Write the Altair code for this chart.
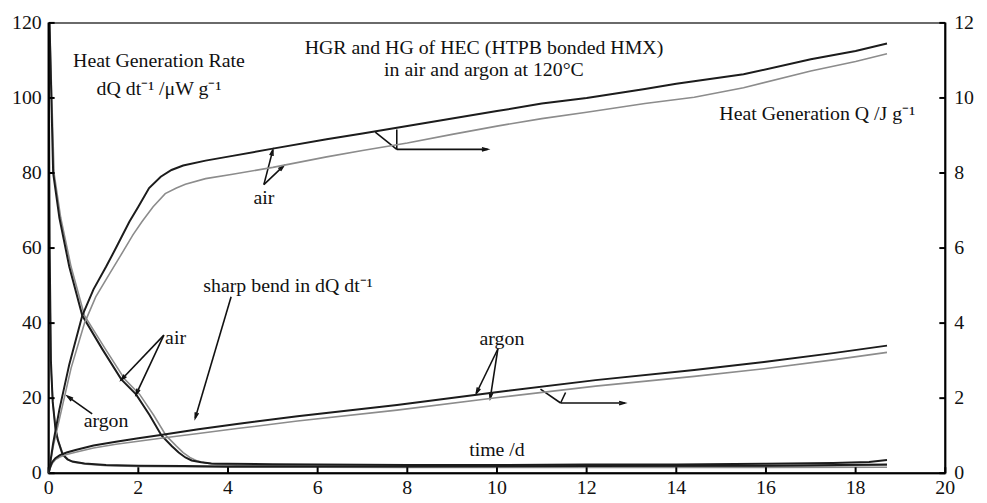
import altair as alt
import pandas as pd
import numpy as np

# ---------------- data ----------------
# Heat generation rate dQ/dt (uW/g), left axis
t_hgr_air_a = [0.02, 0.1, 0.24, 0.46, 0.75, 1.2, 1.62, 1.95, 2.25, 2.52, 2.75, 2.9, 3.05, 3.19, 3.4, 3.63, 4.0, 5.0, 6.0, 8.0, 10.0, 12.0, 14.0, 16.0, 17.5, 18.3, 18.7]
v_hgr_air_a = [120, 80, 68, 55, 42, 33, 25, 21, 15.5, 10, 7.2, 5.5, 4.2, 3.4, 2.9, 2.6, 2.5, 2.4, 2.3, 2.2, 2.2, 2.3, 2.3, 2.5, 2.7, 3.0, 3.5]
t_hgr_air_b = [0.02, 0.12, 0.27, 0.5, 0.8, 1.27, 1.7, 2.03, 2.34, 2.62, 2.85, 3.0, 3.15, 3.3, 3.5, 3.75, 4.2, 5.0, 6.0, 8.0, 10.0, 12.0, 14.0, 16.0, 17.5, 18.7]
v_hgr_air_b = [120, 80, 68, 55, 42, 33, 25, 21, 15.5, 10, 7.2, 5.5, 4.2, 3.3, 2.7, 2.3, 2.1, 2.0, 1.9, 1.8, 1.8, 1.7, 1.7, 1.8, 1.9, 2.2]
t_hgr_ar_a = [0.0, 0.02, 0.05, 0.09, 0.15, 0.2, 0.31, 0.42, 0.53, 0.8, 1.28, 2.0, 3.0, 4.0, 6.0, 8.0, 12.0, 16.0, 18.7]
v_hgr_ar_a = [120, 62, 30, 19, 12, 9, 5, 3.7, 3.1, 2.6, 2.2, 2.0, 1.9, 1.8, 1.8, 1.8, 1.9, 2.0, 2.3]
t_hgr_ar_b = [0.0, 0.02, 0.05, 0.1, 0.16, 0.22, 0.33, 0.45, 0.56, 0.85, 1.3, 2.0, 3.0, 4.0, 6.0, 8.0, 12.0, 16.0, 18.7]
v_hgr_ar_b = [118, 58, 28, 18, 11.5, 8.5, 4.8, 3.5, 2.9, 2.4, 2.0, 1.8, 1.7, 1.6, 1.6, 1.5, 1.5, 1.5, 1.6]

# Heat generation Q (J/g), right axis
t_q_air_a = [0, 0.1, 0.24, 0.46, 0.75, 1.0, 1.28, 1.5, 1.8, 2.0, 2.24, 2.5, 2.74, 3.0, 3.5, 4.07, 5.0, 6.2, 7.0, 8.0, 9.0, 10.0, 11.0, 12.0, 13.3, 14.0, 15.5, 17.0, 18.0, 18.7]
q_q_air_a = [0, 0.8, 1.7, 2.9, 4.2, 4.9, 5.5, 6.0, 6.7, 7.1, 7.6, 7.9, 8.08, 8.2, 8.33, 8.45, 8.65, 8.9, 9.05, 9.25, 9.45, 9.65, 9.85, 10.0, 10.24, 10.38, 10.63, 11.03, 11.25, 11.45]
t_q_air_b = [0, 0.1, 0.27, 0.5, 0.8, 1.05, 1.35, 1.58, 1.88, 2.08, 2.33, 2.6, 2.85, 3.05, 3.5, 4.07, 5.0, 6.2, 7.0, 8.0, 9.0, 10.0, 11.0, 12.0, 13.3, 14.4, 15.5, 17.0, 18.0, 18.7]
q_q_air_b = [0, 0.7, 1.6, 2.8, 4.0, 4.7, 5.3, 5.75, 6.35, 6.7, 7.1, 7.45, 7.6, 7.7, 7.85, 7.96, 8.15, 8.43, 8.6, 8.8, 9.03, 9.25, 9.45, 9.62, 9.85, 10.02, 10.27, 10.72, 10.97, 11.18]
t_q_ar = [0, 0.03, 0.08, 0.15, 0.25, 0.4, 0.6, 1.0, 1.5, 2.0, 2.5, 3.34, 4.2, 5.55, 7.77, 9.98, 12.2, 14.4, 16.0, 17.5, 18.7]
q_q_ar_a = [0, 0.15, 0.3, 0.4, 0.48, 0.55, 0.62, 0.74, 0.84, 0.93, 1.02, 1.17, 1.31, 1.52, 1.82, 2.16, 2.48, 2.75, 2.97, 3.2, 3.4]
q_q_ar_b = [0, 0.12, 0.26, 0.36, 0.43, 0.5, 0.56, 0.67, 0.77, 0.85, 0.93, 1.06, 1.19, 1.39, 1.68, 2.01, 2.32, 2.58, 2.79, 3.02, 3.22]

# ticks
x_ticks = [0, 2, 4, 6, 8, 10, 12, 14, 16, 18, 20]
left_ticks = [0, 20, 40, 60, 80, 100, 120]
right_ticks = [0, 2, 4, 6, 8, 10, 12]

# annotation texts (x in days, y in left-axis units, baseline)
txt_c = ["Heat Generation Rate", "dQ dt\u207b\u00b9 /\u03bcW g\u207b\u00b9",
         "HGR and HG of HEC (HTPB bonded HMX)", "in air and argon at 120\u00b0C",
         "air", "air", "argon", "argon", "time /d"]
txt_c_x = [2.46, 2.46, 9.71, 9.71, 4.80, 2.83, 1.28, 10.11, 10.0]
txt_c_y = [108.2, 100.8, 111.6, 105.8, 71.7, 34.4, 12.3, 34.1, 4.7]
txt_l = ["Heat Generation Q /J g\u207b\u00b9", "sharp bend in dQ dt\u207b\u00b9"]
txt_l_x = [14.96, 3.45]
txt_l_y = [94.0, 48.3]

# annotation arrows
arrow_x1 = [4.80, 4.80, 7.285, 7.765, 7.765, 2.57, 2.57, 0.97, 4.07, 10.02, 10.02, 10.97, 11.53, 11.42]
arrow_y1 = [76.9, 76.9, 90.9, 91.6, 86.3, 36.8, 36.8, 15.8, 47.0, 33.1, 33.1, 22.4, 21.5, 18.7]
arrow_x2 = [5.00, 5.24, 7.765, 7.765, 9.79, 1.62, 1.95, 0.42, 3.27, 9.54, 9.85, 11.42, 11.42, 12.85]
arrow_y2 = [86.1, 81.9, 86.3, 86.3, 86.3, 24.9, 21.0, 20.5, 14.7, 21.3, 20.0, 18.7, 18.7, 18.7]
arrow_head = [1, 1, 0, 0, 1, 1, 1, 1, 1, 1, 1, 0, 0, 1]

# ---------------- chart ----------------
W, H = 904, 454
FONT = "Liberation Serif"
DARK = "#1c1c1c"
GRAY = "#8c8c8c"
FS = 20


def frame(ts, vs, name, col="v"):
    return pd.DataFrame({"t": ts, col: vs, "series": name})


hgr_dark = pd.concat([frame(t_hgr_air_a, v_hgr_air_a, "air"), frame(t_hgr_ar_a, v_hgr_ar_a, "argon")])
hgr_gray = pd.concat([frame(t_hgr_air_b, v_hgr_air_b, "air"), frame(t_hgr_ar_b, v_hgr_ar_b, "argon")])
q_dark = pd.concat([frame(t_q_air_a, q_q_air_a, "air", "q"), frame(t_q_ar, q_q_ar_a, "argon", "q")])
q_gray = pd.concat([frame(t_q_air_b, q_q_air_b, "air", "q"), frame(t_q_ar, q_q_ar_b, "argon", "q")])

xs = alt.Scale(domain=[0, 20], nice=False, zero=False)
ysl = alt.Scale(domain=[0, 120], nice=False)
ysr = alt.Scale(domain=[0, 12], nice=False)

X = lambda f: alt.X(f, scale=xs, axis=None)
YL = lambda f: alt.Y(f, scale=ysl, axis=None)
YR = lambda f: alt.Y(f, scale=ysr, axis=None)

hgr_g = alt.Chart(hgr_gray).mark_line(color=GRAY, strokeWidth=1.6, clip=True).encode(
    x=X("t:Q"), y=YL("v:Q"), detail="series:N", order="t:Q")
hgr_d = alt.Chart(hgr_dark).mark_line(color=DARK, strokeWidth=2, clip=True).encode(
    x=X("t:Q"), y=YL("v:Q"), detail="series:N", order="t:Q")

# axis frame (left, bottom)
lframe = alt.Chart(pd.DataFrame({"v": [0]})).mark_rule(color="#000", strokeWidth=2).encode(
    x=alt.value(0), y=alt.value(0), y2=alt.value(H))
bframe = alt.Chart(pd.DataFrame({"v": [0]})).mark_rule(color="#000", strokeWidth=2).encode(
    x=alt.value(0), x2=alt.value(W), y=alt.value(H))

# inward ticks and tick labels
ldf = pd.DataFrame({"v": left_ticks, "s": [str(v) for v in left_ticks]})
lt = alt.Chart(ldf).mark_rule(color="#000", strokeWidth=2).encode(
    y=YL("v:Q"), x=alt.value(0), x2=alt.value(6))
ll = alt.Chart(ldf).mark_text(font=FONT, fontSize=FS, color="#111", align="right",
                              baseline="middle").encode(y=YL("v:Q"), x=alt.value(-7), text="s:N")
bdf = pd.DataFrame({"t": x_ticks, "s": [str(v) for v in x_ticks]})
bt = alt.Chart(bdf).mark_rule(color="#000", strokeWidth=2).encode(
    x=X("t:Q"), y=alt.value(H), y2=alt.value(H - 6))
bl = alt.Chart(bdf).mark_text(font=FONT, fontSize=FS, color="#111", align="center",
                              baseline="alphabetic").encode(x=X("t:Q"), y=alt.value(H + 21), text="s:N")

tc = alt.Chart(pd.DataFrame({"x": txt_c_x, "y": txt_c_y, "s": txt_c})).mark_text(
    font=FONT, fontSize=FS, color="#111", align="center", baseline="alphabetic").encode(
    x=X("x:Q"), y=YL("y:Q"), text="s:N")
tl = alt.Chart(pd.DataFrame({"x": txt_l_x, "y": txt_l_y, "s": txt_l})).mark_text(
    font=FONT, fontSize=FS, color="#111", align="left", baseline="alphabetic").encode(
    x=X("x:Q"), y=YL("y:Q"), text="s:N")

arr = pd.DataFrame({"x1": arrow_x1, "y1": arrow_y1, "x2": arrow_x2, "y2": arrow_y2, "h": arrow_head})
segs = alt.Chart(arr).mark_rule(color="#111", strokeWidth=1.6).encode(
    x=X("x1:Q"), y=YL("y1:Q"), x2="x2:Q", y2="y2:Q")
heads_df = arr[arr["h"] == 1].copy()
dxp = (heads_df["x2"] - heads_df["x1"]) * W / 20.0
dyp = -(heads_df["y2"] - heads_df["y1"]) * H / 120.0
heads_df["ang"] = np.mod(np.degrees(np.arctan2(dxp, -dyp)), 360)
heads = alt.Chart(heads_df).mark_point(
    shape="M-0.55,1.9L0,0L0.55,1.9", filled=False, size=36, strokeWidth=1.6, color="#111",
    opacity=1).encode(
    x=X("x2:Q"), y=YL("y2:Q"), angle=alt.Angle("ang:Q", scale=None))

left = alt.layer(hgr_g, hgr_d, lframe, bframe, lt, ll, bt, bl, tc, tl, segs, heads)

q_g = alt.Chart(q_gray).mark_line(color=GRAY, strokeWidth=1.6, clip=True).encode(
    x=X("t:Q"), y=YR("q:Q"), detail="series:N", order="t:Q")
q_d = alt.Chart(q_dark).mark_line(color=DARK, strokeWidth=2, clip=True).encode(
    x=X("t:Q"), y=YR("q:Q"), detail="series:N", order="t:Q")
rdf = pd.DataFrame({"q": right_ticks, "s": [str(v) for v in right_ticks]})
rframe = alt.Chart(pd.DataFrame({"q": [0]})).mark_rule(color="#000", strokeWidth=2).encode(
    x=alt.value(W), y=alt.value(0), y2=alt.value(H))
rt = alt.Chart(rdf).mark_rule(color="#000", strokeWidth=2).encode(
    y=YR("q:Q"), x=alt.value(W - 6), x2=alt.value(W))
rl = alt.Chart(rdf).mark_text(font=FONT, fontSize=FS, color="#111", align="left",
                              baseline="middle").encode(y=YR("q:Q"), x=alt.value(W + 9), text="s:N")

right = alt.layer(q_g, q_d, rframe, rt, rl)

chart = alt.layer(left, right).resolve_scale(y="independent").properties(
    width=W, height=H,
    padding={"left": 41, "top": 13, "right": 34, "bottom": 26},
    autosize=alt.AutoSizeParams(type="none"),
    background="white",
).configure_view(stroke="#6a6a6a", strokeWidth=2)

chart.save("out.html", embed_options={"renderer": "svg", "actions": False})
